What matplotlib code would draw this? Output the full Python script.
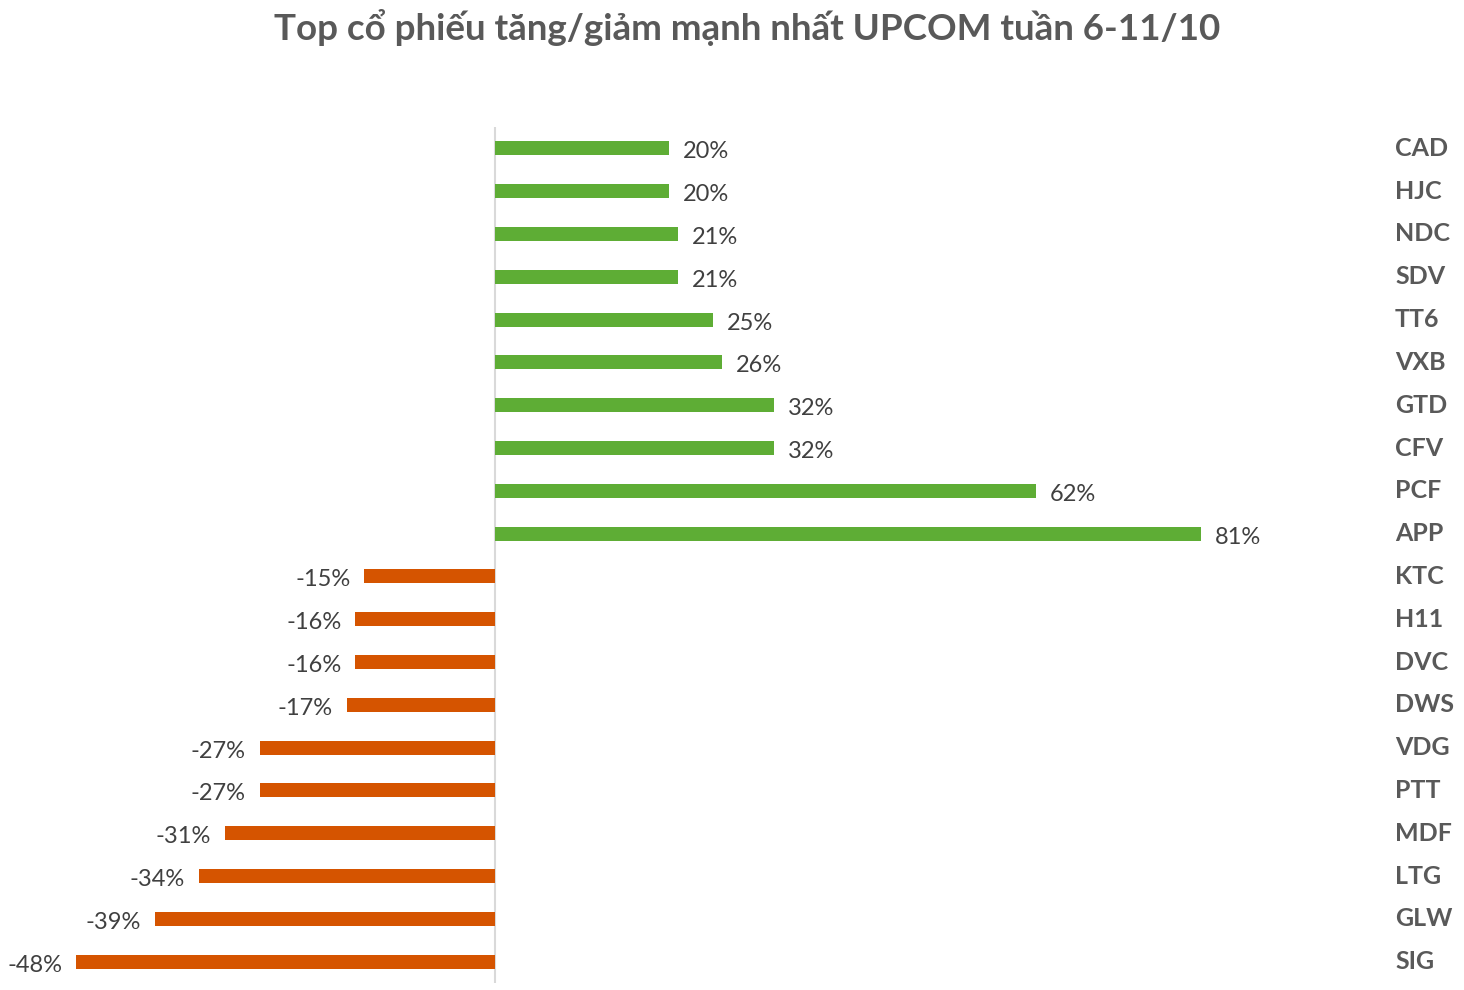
import matplotlib
matplotlib.use("Agg")
import matplotlib.pyplot as plt
import matplotlib.transforms as mtransforms

categories = ["CAD", "HJC", "NDC", "SDV", "TT6", "VXB", "GTD", "CFV", "PCF", "APP",
              "KTC", "H11", "DVC", "DWS", "VDG", "PTT", "MDF", "LTG", "GLW", "SIG"]
values = [20, 20, 21, 21, 25, 26, 32, 32, 62, 81,
          -15, -16, -16, -17, -27, -27, -31, -34, -39, -48]
title = "Top cổ phiếu tăng/giảm mạnh nhất UPCOM tuần 6-11/10"

plt.rcParams['font.family'] = ['Lato', 'DejaVu Sans']

W, H = 1464, 990
fig = plt.figure(figsize=(W / 100, H / 100), dpi=100)
left_px, right_px = 40, 1300
top_px, bot_px = 127, 983
ax = fig.add_axes([left_px / W, (H - bot_px) / H, (right_px - left_px) / W, (bot_px - top_px) / H])

scale = 8.72  # px per percent
zero_px = 495
ax.set_xlim((left_px - zero_px) / scale, (right_px - zero_px) / scale)
n = len(categories)
ax.set_ylim(n - 0.5, -0.5)

green = "#5EAD35"
orange = "#D55400"
colors = [green if v >= 0 else orange for v in values]
ypos = list(range(n))
ax.barh(ypos, values, height=0.33, color=colors)

ax.axvline(0, color="#D9D9D9", lw=1.5, zorder=0)

blend = mtransforms.blended_transform_factory(fig.transFigure, ax.transData)
for y, v in zip(ypos, values):
    if v >= 0:
        ax.annotate(f"{v}%", (v, y), xytext=(10, -2.5), textcoords="offset points",
                    ha="left", va="center", fontsize=17, color="#404040")
    else:
        ax.annotate(f"{v}%", (v, y), xytext=(-10, -2.5), textcoords="offset points",
                    ha="right", va="center", fontsize=17, color="#404040")
    ax.text(1395 / W, y, categories[y], transform=blend, fontsize=18,
            fontweight="bold", color="#595959", ha="left", va="center")

for spine in ax.spines.values():
    spine.set_visible(False)
ax.set_xticks([])
ax.set_yticks([])

fig.suptitle(title, x=747 / W, y=1 - 27 / H, va="center", fontsize=26.5,
             fontweight="bold", color="#595959")

fig.savefig("out.png", dpi=100, facecolor="white")
